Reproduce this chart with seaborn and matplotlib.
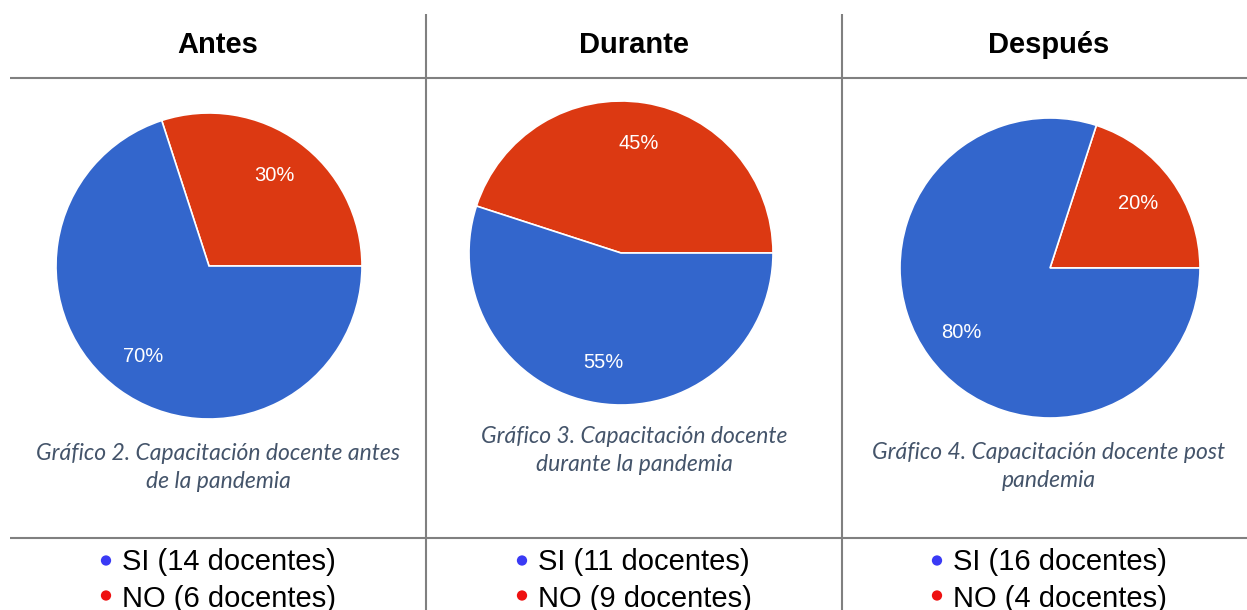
import matplotlib
matplotlib.use("Agg")
import matplotlib.pyplot as plt
import seaborn as sns

# ---------------- data ----------------
periods = ["Antes", "Durante", "Después"]
si_counts = [14, 11, 16]
no_counts = [6, 9, 4]
captions = [
    ["Gráfico 2. Capacitación docente antes", "de la pandemia"],
    ["Gráfico 3. Capacitación docente", "durante la pandemia"],
    ["Gráfico 4. Capacitación docente post", "pandemia"],
]
si_label = "SI ({} docentes)"
no_label = "NO ({} docentes)"

# ---------------- style ----------------
sns.set_theme(style="white")
plt.rcParams["font.family"] = ["Liberation Sans", "DejaVu Sans"]

W, H = 1247, 610
fig = plt.figure(figsize=(W / 100, H / 100), dpi=100)
fig.patch.set_facecolor("white")

pie_colors = ["#DC3912", "#3366CC"]  # NO, SI
bullet_colors = ["#3A3AF5", "#EE1111"]  # SI, NO
grid_color = "#808080"
caption_color = "#44546A"

# layout (pixel coordinates)
col_centers = [218, 634, 1049]
pie_centers = [(209, 266), (621, 253), (1050, 268)]
pie_radii = [153, 152, 150]
caption_baselines = [(460, 488), (443, 471), (459, 487)]

# overlay axes for table lines and text
ov = fig.add_axes([0, 0, 1, 1])
ov.set_xlim(0, W)
ov.set_ylim(H, 0)
ov.axis("off")

lw = 1.5
for x in (426, 842):
    ov.plot([x, x], [14, H], color=grid_color, lw=lw, solid_capstyle="butt")
for y in (77.5, 537.5):
    ov.plot([10, W], [y, y], color=grid_color, lw=lw, solid_capstyle="butt")

for i, period in enumerate(periods):
    cx = col_centers[i]
    # header
    ov.text(cx, 45, period, ha="center", va="center", fontsize=21,
            fontweight="bold", color="black")
    # captions
    for line, yb in zip(captions[i], caption_baselines[i]):
        ov.text(cx, yb, line, ha="center", va="baseline", fontsize=16.5,
                fontstyle="italic", family=["Lato", "DejaVu Sans"],
                color=caption_color)
    # legend rows
    for j, (lab, col, yb, yc) in enumerate([
        (si_label.format(si_counts[i]), bullet_colors[0], 570, 560.5),
        (no_label.format(no_counts[i]), bullet_colors[1], 607, 595.5),
    ]):
        ov.scatter([cx - 112], [yc], s=55, color=col, edgecolors="none", zorder=3)
        ov.text(cx - 96, yb, lab, ha="left", va="baseline", fontsize=21,
                color="black")

    # pie
    pcx, pcy = pie_centers[i]
    r = pie_radii[i]
    ax = fig.add_axes([(pcx - r) / W, (H - pcy - r) / H, 2 * r / W, 2 * r / H])
    vals = [no_counts[i], si_counts[i]]
    wedges, texts, autotexts = ax.pie(
        vals, colors=pie_colors, startangle=0, counterclock=True,
        autopct=lambda p: f"{p:.0f}%", pctdistance=0.73,
        wedgeprops=dict(edgecolor="white", linewidth=1.2),
        textprops=dict(color="white", fontsize=14.5),
    )
    ax.set_xlim(-1.0, 1.0)
    ax.set_ylim(-1.0, 1.0)
    ax.axis("off")

fig.savefig("out.png", dpi=100, facecolor="white")
